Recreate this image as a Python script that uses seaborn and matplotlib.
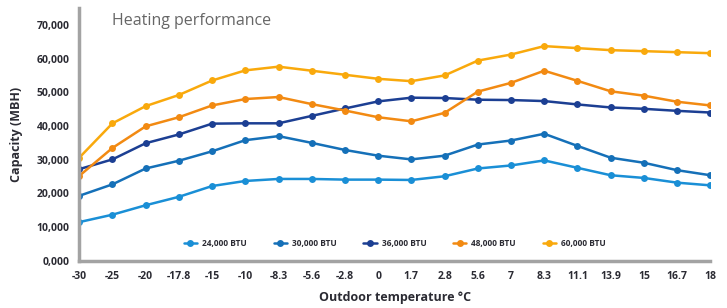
import pandas as pd
import seaborn as sns
import matplotlib.pyplot as plt

# data
temps = ["-30", "-25", "-20", "-17.8", "-15", "-10", "-8.3", "-5.6", "-2.8", "0",
         "1.7", "2.8", "5.6", "7", "8.3", "11.1", "13.9", "15", "16.7", "18"]
btu_24k = [11500, 13700, 16500, 19000, 22200, 23700, 24300, 24300, 24100, 24100,
           24000, 25100, 27400, 28300, 29800, 27600, 25400, 24600, 23200, 22400]
btu_30k = [19300, 22700, 27400, 29700, 32500, 35800, 37000, 35000, 32900, 31200,
           30100, 31200, 34500, 35700, 37700, 34100, 30600, 29100, 26900, 25400]
btu_36k = [27200, 30100, 34900, 37500, 40700, 40800, 40800, 43000, 45200, 47300,
           48400, 48300, 47800, 47700, 47400, 46400, 45500, 45100, 44500, 44000]
btu_48k = [25200, 33500, 39900, 42600, 46100, 48000, 48600, 46500, 44600, 42600,
           41400, 43900, 50200, 52800, 56400, 53400, 50300, 49000, 47200, 46100]
btu_60k = [30600, 40800, 45900, 49200, 53500, 56500, 57600, 56400, 55200, 54000,
           53300, 55000, 59400, 61200, 63700, 63100, 62500, 62200, 61900, 61600]
y_ticks = [0, 10000, 20000, 30000, 40000, 50000, 60000, 70000]
y_labels = ["0,000", "10,000", "20,000", "30,000", "40,000", "50,000", "60,000", "70,000"]

series = {"24,000 BTU": btu_24k, "30,000 BTU": btu_30k, "36,000 BTU": btu_36k,
          "48,000 BTU": btu_48k, "60,000 BTU": btu_60k}
colors = ["#1a8fd6", "#1570b8", "#1c3f93", "#f28a12", "#f9a90c"]

rows = []
for name, vals in series.items():
  for t, v in zip(temps, vals):
    rows.append({"Temperature": t, "Capacity": v, "Model": name})
df = pd.DataFrame(rows)

sns.set_style("white")
plt.rcParams["font.family"] = ["Open Sans", "DejaVu Sans"]

fig = plt.figure(figsize=(7.27, 3.08), dpi=100)
ax = fig.add_axes([0.109, 0.153, 0.868, 0.821])

sns.lineplot(data=df, x="Temperature", y="Capacity", hue="Model",
             palette=colors, sort=False, marker="o", markersize=5,
             markeredgewidth=0, linewidth=1.8, ax=ax)

ax.set_xlim(0, len(temps) - 1)
ax.set_ylim(0, 75000)
ax.set_yticks(y_ticks)
ax.set_yticklabels(y_labels)

for side in ["top", "right"]:
  ax.spines[side].set_visible(False)
for side in ["left", "bottom"]:
  ax.spines[side].set_color("#a3a3a3")
  ax.spines[side].set_linewidth(2.5)

ax.tick_params(axis="both", length=3, width=1, color="#333333",
               labelsize=7.5, labelcolor="#2b2b33", pad=4)
for lbl in ax.get_xticklabels() + ax.get_yticklabels():
  lbl.set_fontweight("bold")

ax.set_xlabel("Outdoor temperature °C", fontsize=9, fontweight="bold",
              color="#2b2b33", labelpad=7)
ax.set_ylabel("Capacity (MBH)", fontsize=9, fontweight="bold",
              color="#2b2b33", labelpad=10)
ax.text(1.0, 71000, "Heating performance", fontsize=11.5, color="#666666",
        va="center")

leg = ax.legend(loc="lower center", bbox_to_anchor=(0.5, 0.02), ncol=5,
                frameon=False, handlelength=1.6, columnspacing=3.2,
                handletextpad=0.6, prop={"size": 6, "weight": "bold"})
for txt in leg.get_texts():
  txt.set_color("#2b2b33")

fig.savefig("out.png", dpi=100)
